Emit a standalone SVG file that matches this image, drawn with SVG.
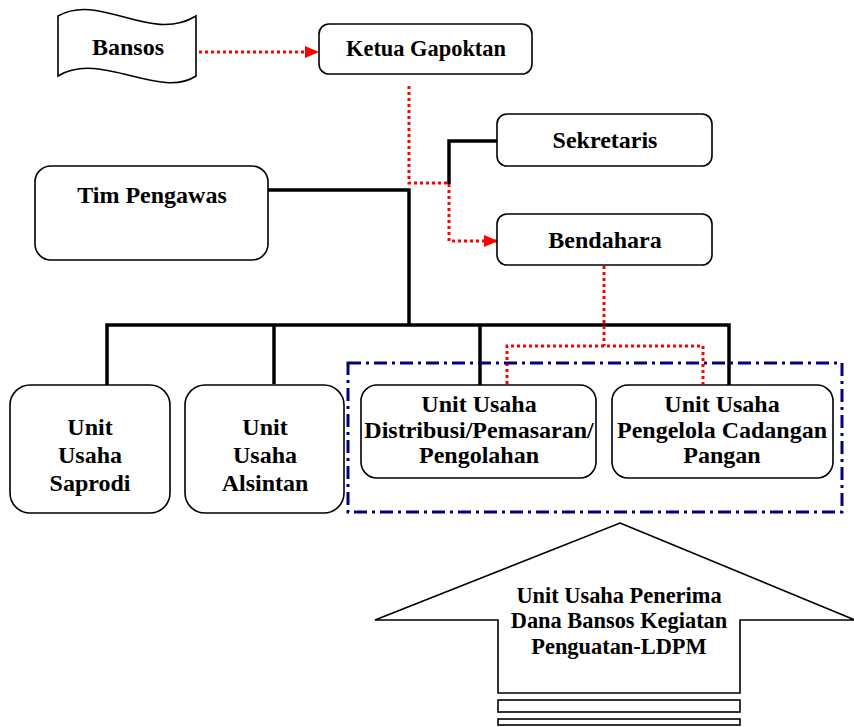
<svg xmlns="http://www.w3.org/2000/svg" width="854" height="727" viewBox="0 0 854 727">
<style>
.box{fill:#fff;stroke:#000;stroke-width:1.6}
.t{font-family:"Liberation Serif","Times New Roman",serif;font-weight:bold;font-size:24px;text-anchor:middle;fill:#000}
.s22{font-size:22.4px}
.blk{fill:none;stroke:#000;stroke-width:3.5}
.red{fill:none;stroke:#ff0000;stroke-width:3;stroke-dasharray:3 3}
</style>
<defs>
<marker id="ah" markerWidth="14" markerHeight="12" refX="13" refY="6" orient="auto" markerUnits="userSpaceOnUse">
<path d="M0,0 L14,6 L0,12 Z" fill="#ff0000"/>
</marker>
</defs>
<rect width="854" height="727" fill="#fff"/>

<g id="connectors">
<polyline class="blk" points="268,190 409,190 409,325"/>
<polyline class="blk" points="497,141 449,141 449,184"/>
<polyline class="blk" points="107,385 107,325 729,325 729,385"/>
<line class="blk" x1="274" y1="325" x2="274" y2="384"/>
<line class="blk" x1="480" y1="325" x2="480" y2="385"/>
<line class="red" x1="193" y1="52" x2="318" y2="52" marker-end="url(#ah)"/>
<polyline class="red" points="409,86 409,183 449,183 449,241 497,241" marker-end="url(#ah)"/>
<polyline class="red" points="604,266 604,346"/>
<polyline class="red" points="507,384 507,346 703,346 703,384"/>
<rect x="348" y="363" width="494" height="149" fill="none" stroke="#000080" stroke-width="3" stroke-dasharray="13 5 3 5"/>
</g>

<g id="bansos">
<path class="box" d="M58,16 C100,-8 150,44 196,16 L196,76 C160,100 100,50 58,76 Z"/>
<text class="t" x="128" y="55">Bansos</text>
</g>

<g id="ketua">
<rect class="box" x="319" y="24" width="213" height="50" rx="10"/>
<text class="t s22" x="426" y="56">Ketua Gapoktan</text>
</g>

<g id="sekretaris">
<rect class="box" x="497" y="114" width="215" height="52" rx="10"/>
<text class="t" x="605" y="148">Sekretaris</text>
</g>

<g id="bendahara">
<rect class="box" x="497" y="214" width="215" height="51" rx="10"/>
<text class="t" x="605" y="248">Bendahara</text>
</g>

<g id="tim-pengawas">
<rect class="box" x="35" y="166" width="233" height="94" rx="16"/>
<text class="t" x="152" y="203">Tim Pengawas</text>
</g>

<g id="saprodi">
<rect class="box" x="10" y="385" width="160" height="128" rx="20"/>
<text class="t" x="90" y="435">Unit</text>
<text class="t" x="90" y="463">Usaha</text>
<text class="t" x="90" y="491">Saprodi</text>
</g>

<g id="alsintan">
<rect class="box" x="185" y="385" width="159" height="128" rx="20"/>
<text class="t" x="265" y="435">Unit</text>
<text class="t" x="265" y="463">Usaha</text>
<text class="t" x="265" y="491">Alsintan</text>
</g>

<g id="distribusi">
<rect class="box" x="361" y="385" width="235" height="93" rx="16"/>
<text class="t" x="479" y="412">Unit Usaha</text>
<text class="t" x="479" y="438">Distribusi/Pemasaran/</text>
<text class="t" x="479" y="463">Pengolahan</text>
</g>

<g id="cadangan">
<rect class="box" x="612" y="385" width="221" height="93" rx="16"/>
<text class="t" x="722" y="412">Unit Usaha</text>
<text class="t" x="722" y="438">Pengelola Cadangan</text>
<text class="t" x="722" y="463">Pangan</text>
</g>

<g id="penerima">
<polygon class="box" points="620,523 855,620 740,620 740,693 498,693 498,620 375,620"/>
<rect class="box" x="498" y="700" width="242" height="12"/>
<rect class="box" x="498" y="719" width="242" height="6"/>
<text class="t s22" x="619" y="603">Unit Usaha Penerima</text>
<text class="t s22" x="619" y="628">Dana Bansos Kegiatan</text>
<text class="t s22" x="619" y="654">Penguatan-LDPM</text>
</g>
</svg>
